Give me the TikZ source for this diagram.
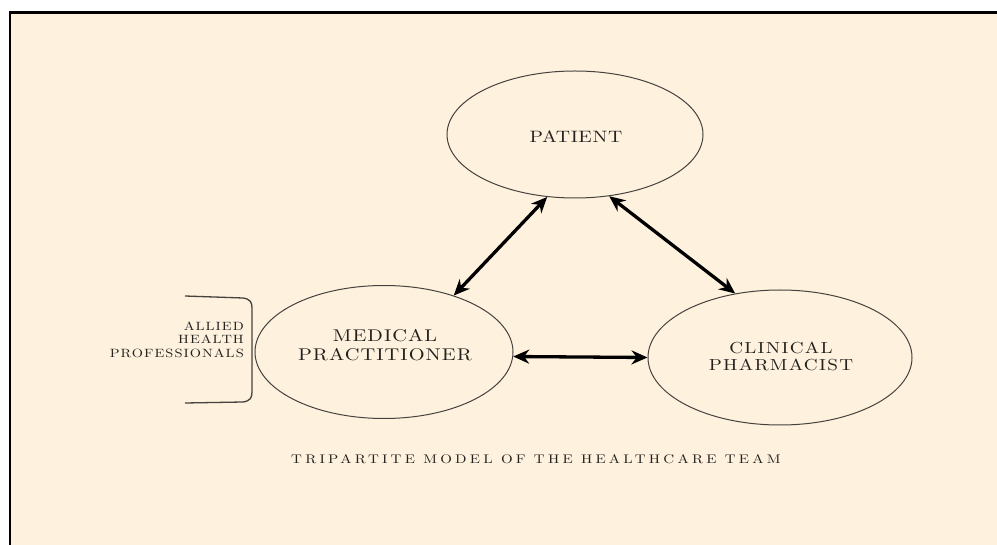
\documentclass[tikz,border=0pt]{standalone}
\usepackage{fontspec}
\newfontfamily\lmfont{lmroman10-regular}[Extension=.otf, FakeStretch=1.2]
\usetikzlibrary{arrows.meta,shapes.geometric}
\definecolor{cream}{RGB}{254,242,222}
\definecolor{edgegray}{RGB}{70,66,62}
\definecolor{inkc}{RGB}{35,32,30}
\begin{document}
\begin{tikzpicture}[x=1pt,y=-1pt,
  oval/.style={draw=edgegray, line width=1pt, ellipse, inner sep=0pt},
  lbl/.style={text=inkc, inner sep=0pt},
  dblarrow/.style={line width=3.3pt, {Stealth[length=16pt,width=14pt]}-{Stealth[length=16pt,width=14pt]}}]
\useasboundingbox (0,0) rectangle (997,545);
\clip (0,0) rectangle (997,545);
\fill[white] (0,0) rectangle (997,545);
\draw[fill=cream, line width=2.2pt] (10,12.5) rectangle (1020,570);
% ellipses
\node[oval, minimum width=256pt, minimum height=127pt] (patient) at (575,134.5) {};
\node[oval, minimum width=258pt, minimum height=133pt] (medical) at (384,352) {};
\node[oval, minimum width=264pt, minimum height=135pt] (clinical) at (780,357.5) {};
% labels
\node[lbl, font=\lmfont\fontsize{16.5}{19}\selectfont\addfontfeatures{LetterSpace=3.5}] (tpatient) at (576,137) {PATIENT};
\node[lbl, align=center, font=\lmfont\fontsize{17}{19}\selectfont\addfontfeatures{LetterSpace=6}] (tmedical) at (385,345.5) {MEDICAL\\PRACTITIONER};
\node[lbl, align=center, font=\lmfont\fontsize{16}{17}\selectfont\addfontfeatures{LetterSpace=8}] (tclinical) at (781,356.5) {CLINICAL\\PHARMACIST};
\node[lbl, align=right, anchor=east, font=\lmfont\fontsize{12}{13.5}\selectfont\addfontfeatures{LetterSpace=8.7}] (tallied) at (244,339.5) {ALLIED\\HEALTH\\PROFESSIONALS};
\node[lbl, anchor=west, font=\lmfont\fontsize{12.5}{14}\selectfont\addfontfeatures{LetterSpace=26}] (title) at (291,459) {TRIPARTITE MODEL OF THE HEALTHCARE TEAM};
% bracket
\draw[edgegray, line width=1.3pt] (185,296) -- (243,298) .. controls (250,299) and (252,302) .. (252,308) -- (252,392) .. controls (252,398) and (250,401) .. (243,402) -- (185,403);
% connectors
\draw[dblarrow] (medical.39.7) -- (patient.246.5);
\draw[dblarrow] (patient.-61.5) -- (clinical.125.3);
\draw[dblarrow] (medical.-2.2) -- (clinical.180);
\end{tikzpicture}
\end{document}
